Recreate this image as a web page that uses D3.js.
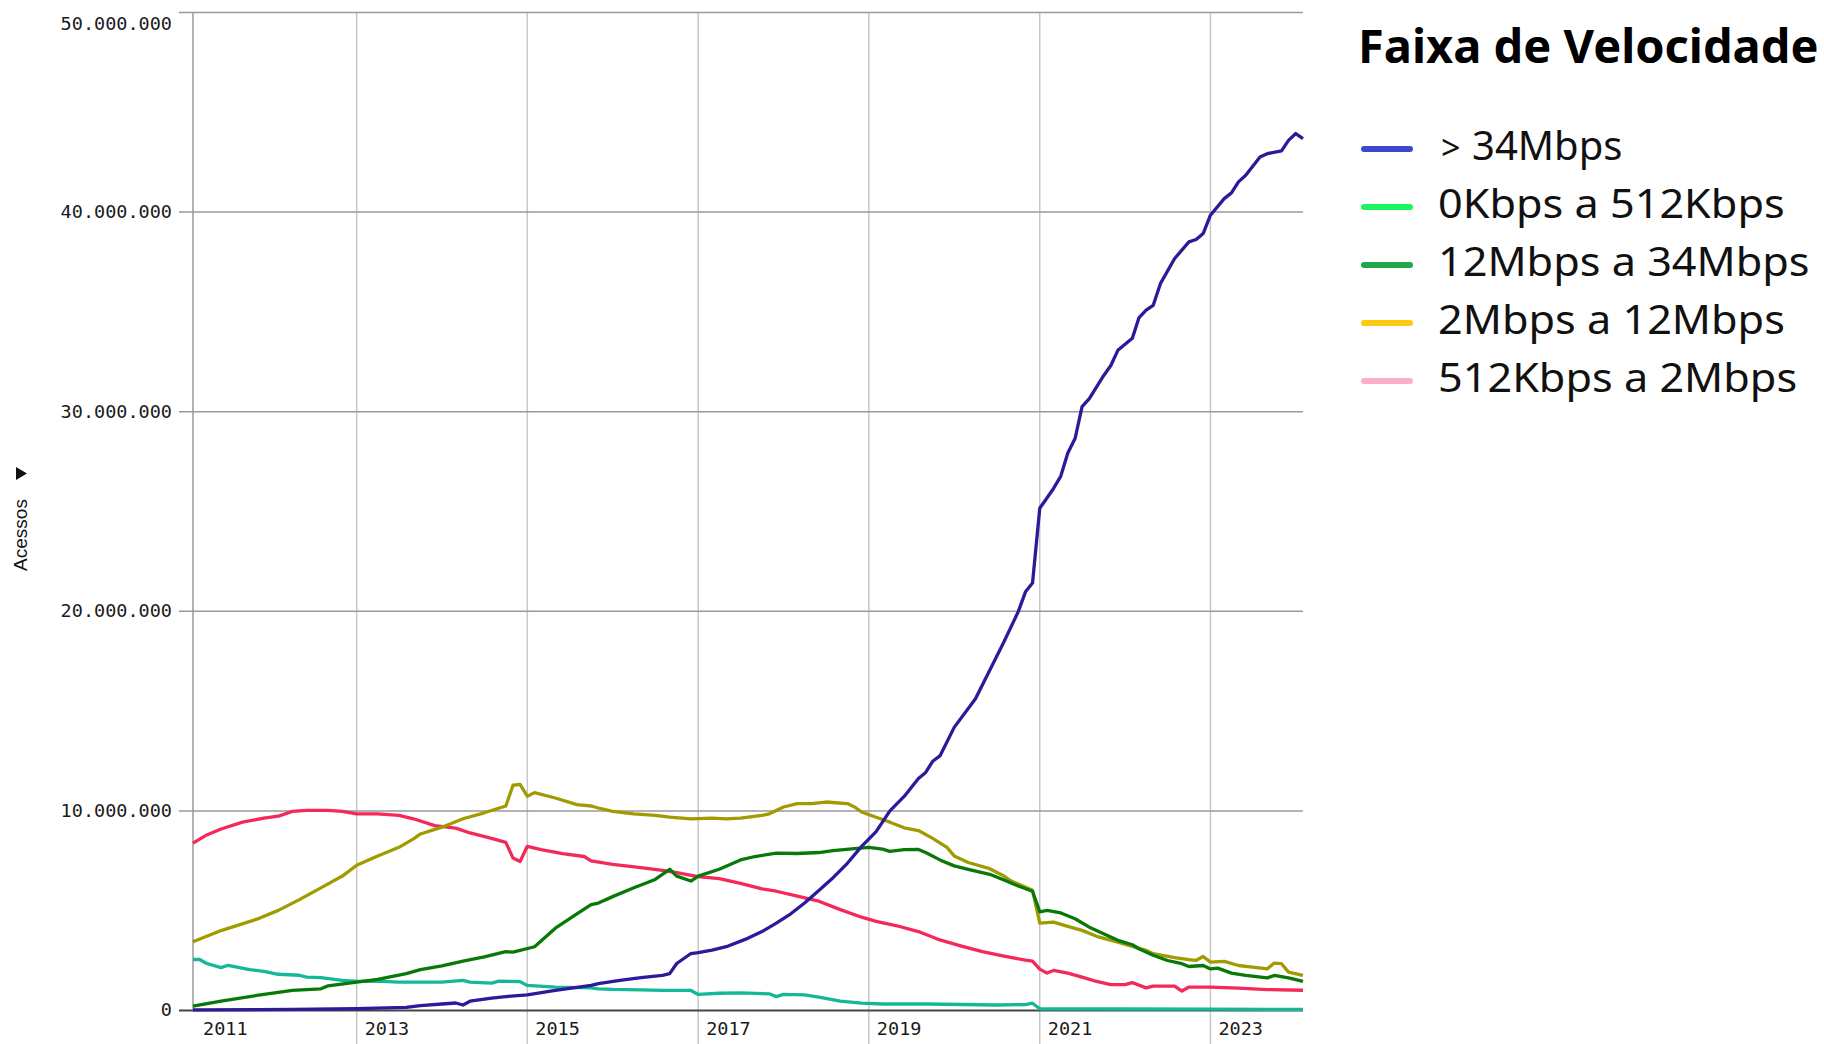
<!DOCTYPE html>
<html>
<head>
<meta charset="utf-8">
<script src="https://cdn.jsdelivr.net/npm/d3@7"></script>
<style>
  body { margin: 0; background: #fff; }
  svg { display: block; }
</style>
</head>
<body>
<svg id="chart"></svg>
<script>
const width = 1824;
const height = 1044;

// Acessos por faixa de velocidade (milhões)
const seriesNames = ["> 34Mbps", "0Kbps a 512Kbps", "12Mbps a 34Mbps", "2Mbps a 12Mbps", "512Kbps a 2Mbps"];
const lineColors = ["#2b1a9a", "#14b898", "#087808", "#9f9b00", "#f5285a"];
const legendColors = ["#3f48cc", "#1af560", "#22a64a", "#ffc90e", "#ffaec9"];
const yearTicks = [2011, 2013, 2015, 2017, 2019, 2021, 2023];

const acima34M = [
  ["2011-02", 0.01], ["2011-11", 0.02], ["2012-04", 0.03], ["2013-01", 0.07], ["2013-08", 0.13],
  ["2013-10", 0.22], ["2014-01", 0.30], ["2014-03", 0.35], ["2014-04", 0.25], ["2014-05", 0.44],
  ["2014-08", 0.59], ["2014-10", 0.67], ["2015-01", 0.76], ["2015-05", 0.98], ["2015-10", 1.23],
  ["2015-11", 1.32], ["2016-02", 1.48], ["2016-05", 1.62], ["2016-08", 1.74], ["2016-09", 1.82],
  ["2016-10", 2.33], ["2016-12", 2.83], ["2017-01", 2.88], ["2017-03", 3.00], ["2017-05", 3.17],
  ["2017-08", 3.59], ["2017-10", 3.93], ["2017-12", 4.35], ["2018-02", 4.82], ["2018-04", 5.36],
  ["2018-06", 5.99], ["2018-08", 6.63], ["2018-10", 7.35], ["2018-12", 8.20], ["2019-02", 8.94],
  ["2019-04", 9.98], ["2019-06", 10.70], ["2019-08", 11.60], ["2019-09", 11.90], ["2019-10", 12.46],
  ["2019-11", 12.73], ["2020-01", 14.16], ["2020-04", 15.59], ["2020-06", 17.02], ["2020-08", 18.45],
  ["2020-10", 19.96], ["2020-11", 20.95], ["2020-12", 21.39], ["2021-01", 25.14], ["2021-03", 26.13],
  ["2021-04", 26.75], ["2021-05", 27.91], ["2021-06", 28.63], ["2021-07", 30.23], ["2021-08", 30.63],
  ["2021-10", 31.78], ["2021-11", 32.29], ["2021-12", 33.05], ["2022-02", 33.65], ["2022-03", 34.67],
  ["2022-04", 35.06], ["2022-05", 35.30], ["2022-06", 36.39], ["2022-08", 37.65], ["2022-10", 38.48],
  ["2022-11", 38.60], ["2022-12", 38.90], ["2023-01", 39.82], ["2023-03", 40.65], ["2023-04", 40.94],
  ["2023-05", 41.49], ["2023-06", 41.82], ["2023-08", 42.74], ["2023-09", 42.90], ["2023-11", 43.04],
  ["2023-12", 43.57], ["2024-01", 43.91], ["2024-02", 43.66]
];

const ate512K = [
  ["2011-02", 2.53], ["2011-03", 2.53], ["2011-04", 2.33], ["2011-06", 2.12], ["2011-07", 2.24],
  ["2011-10", 2.02], ["2011-12", 1.94], ["2012-02", 1.79], ["2012-05", 1.74], ["2012-06", 1.65],
  ["2012-08", 1.62], ["2012-11", 1.48], ["2013-01", 1.43], ["2013-04", 1.45], ["2013-07", 1.40],
  ["2013-10", 1.40], ["2014-01", 1.40], ["2014-04", 1.48], ["2014-05", 1.40], ["2014-08", 1.35],
  ["2014-09", 1.45], ["2014-12", 1.42], ["2015-01", 1.23], ["2015-05", 1.15], ["2015-10", 1.11],
  ["2015-11", 1.06], ["2016-01", 1.03], ["2016-05", 1.01], ["2016-08", 0.98], ["2016-12", 0.98],
  ["2017-01", 0.78], ["2017-04", 0.84], ["2017-07", 0.86], ["2017-11", 0.81], ["2017-12", 0.67],
  ["2018-01", 0.78], ["2018-04", 0.76], ["2018-06", 0.64], ["2018-09", 0.44], ["2018-12", 0.34],
  ["2019-03", 0.30], ["2019-09", 0.30], ["2020-07", 0.25], ["2020-11", 0.27], ["2020-12", 0.34],
  ["2021-01", 0.06], ["2022-01", 0.05], ["2023-01", 0.04], ["2024-02", 0.03]
];

const de12a34M = [
  ["2011-02", 0.19], ["2011-06", 0.44], ["2011-11", 0.73], ["2012-04", 0.98], ["2012-08", 1.06],
  ["2012-09", 1.21], ["2013-01", 1.40], ["2013-04", 1.53], ["2013-08", 1.82], ["2013-10", 2.02],
  ["2014-01", 2.21], ["2014-04", 2.45], ["2014-07", 2.66], ["2014-10", 2.92], ["2014-11", 2.90],
  ["2015-02", 3.17], ["2015-05", 4.10], ["2015-08", 4.82], ["2015-10", 5.28], ["2015-11", 5.36],
  ["2016-01", 5.68], ["2016-04", 6.12], ["2016-07", 6.54], ["2016-09", 7.05], ["2016-10", 6.71],
  ["2016-12", 6.46], ["2017-01", 6.71], ["2017-04", 7.05], ["2017-07", 7.52], ["2017-09", 7.69],
  ["2017-12", 7.86], ["2018-03", 7.84], ["2018-06", 7.89], ["2018-08", 7.98], ["2018-11", 8.09],
  ["2019-01", 8.15], ["2019-03", 8.06], ["2019-04", 7.95], ["2019-06", 8.03], ["2019-08", 8.04],
  ["2019-09", 7.89], ["2019-11", 7.52], ["2020-01", 7.22], ["2020-03", 7.05], ["2020-06", 6.80],
  ["2020-08", 6.51], ["2020-10", 6.21], ["2020-12", 5.95], ["2021-01", 4.92], ["2021-02", 4.99],
  ["2021-04", 4.86], ["2021-06", 4.57], ["2021-08", 4.15], ["2021-10", 3.82], ["2021-12", 3.49],
  ["2022-02", 3.27], ["2022-03", 3.07], ["2022-05", 2.74], ["2022-07", 2.48], ["2022-09", 2.32],
  ["2022-10", 2.18], ["2022-12", 2.23], ["2023-01", 2.06], ["2023-02", 2.10], ["2023-04", 1.85],
  ["2023-06", 1.73], ["2023-09", 1.61], ["2023-10", 1.73], ["2023-12", 1.61], ["2024-02", 1.43]
];

const de2a12M = [
  ["2011-02", 3.42], ["2011-06", 3.98], ["2011-11", 4.55], ["2012-02", 4.99], ["2012-05", 5.53],
  ["2012-08", 6.12], ["2012-11", 6.71], ["2013-01", 7.25], ["2013-04", 7.72], ["2013-07", 8.15],
  ["2013-09", 8.57], ["2013-10", 8.82], ["2014-01", 9.16], ["2014-04", 9.58], ["2014-07", 9.88],
  ["2014-10", 10.22], ["2014-11", 11.26], ["2014-12", 11.30], ["2015-01", 10.71], ["2015-02", 10.89],
  ["2015-05", 10.62], ["2015-08", 10.29], ["2015-10", 10.22], ["2015-11", 10.12], ["2016-01", 9.95],
  ["2016-04", 9.83], ["2016-07", 9.75], ["2016-09", 9.66], ["2016-12", 9.58], ["2017-03", 9.61],
  ["2017-05", 9.58], ["2017-07", 9.61], ["2017-10", 9.75], ["2017-11", 9.83], ["2018-01", 10.17],
  ["2018-03", 10.34], ["2018-05", 10.34], ["2018-07", 10.42], ["2018-10", 10.34], ["2018-11", 10.17],
  ["2018-12", 9.92], ["2019-02", 9.66], ["2019-04", 9.41], ["2019-06", 9.13], ["2019-08", 8.99],
  ["2019-10", 8.60], ["2019-12", 8.15], ["2020-01", 7.72], ["2020-03", 7.39], ["2020-06", 7.08],
  ["2020-08", 6.71], ["2020-09", 6.46], ["2020-12", 6.00], ["2021-01", 4.35], ["2021-03", 4.40],
  ["2021-05", 4.19], ["2021-07", 3.99], ["2021-09", 3.69], ["2021-12", 3.40], ["2022-02", 3.19],
  ["2022-04", 2.99], ["2022-05", 2.82], ["2022-08", 2.62], ["2022-10", 2.52], ["2022-11", 2.49],
  ["2022-12", 2.68], ["2023-01", 2.40], ["2023-03", 2.44], ["2023-05", 2.23], ["2023-07", 2.15],
  ["2023-09", 2.06], ["2023-10", 2.35], ["2023-11", 2.32], ["2023-12", 1.90], ["2024-02", 1.73]
];

const de512Ka2M = [
  ["2011-02", 8.36], ["2011-04", 8.77], ["2011-06", 9.07], ["2011-09", 9.41], ["2011-12", 9.61],
  ["2012-02", 9.71], ["2012-04", 9.95], ["2012-06", 10.00], ["2012-09", 10.00], ["2012-11", 9.95],
  ["2013-01", 9.83], ["2013-04", 9.83], ["2013-07", 9.75], ["2013-09", 9.58], ["2013-12", 9.24],
  ["2014-03", 9.11], ["2014-05", 8.87], ["2014-08", 8.60], ["2014-10", 8.40], ["2014-11", 7.61],
  ["2014-12", 7.44], ["2015-01", 8.20], ["2015-03", 8.03], ["2015-06", 7.84], ["2015-09", 7.69],
  ["2015-10", 7.47], ["2016-01", 7.30], ["2016-05", 7.13], ["2016-08", 7.00], ["2016-10", 6.88],
  ["2017-01", 6.68], ["2017-04", 6.58], ["2017-07", 6.34], ["2017-10", 6.07], ["2017-12", 5.95],
  ["2018-03", 5.70], ["2018-06", 5.45], ["2018-09", 5.03], ["2018-12", 4.65], ["2019-02", 4.44],
  ["2019-05", 4.22], ["2019-08", 3.93], ["2019-11", 3.51], ["2020-02", 3.20], ["2020-05", 2.92],
  ["2020-08", 2.70], ["2020-11", 2.50], ["2020-12", 2.45], ["2021-01", 2.05], ["2021-02", 1.85],
  ["2021-03", 1.98], ["2021-05", 1.85], ["2021-07", 1.65], ["2021-09", 1.43], ["2021-11", 1.27],
  ["2022-01", 1.27], ["2022-02", 1.37], ["2022-04", 1.11], ["2022-05", 1.20], ["2022-08", 1.20],
  ["2022-09", 0.95], ["2022-10", 1.15], ["2023-01", 1.15], ["2023-05", 1.10], ["2023-09", 1.02],
  ["2024-02", 0.99]
];

const parseMonth = d3.timeParse("%Y-%m");
const series = [acima34M, ate512K, de12a34M, de2a12M, de512Ka2M].map((values, i) => ({
  name: seriesNames[i],
  color: lineColors[i],
  values: values.map(([m, v]) => ({ date: parseMonth(m), value: v }))
}));

const plot = { left: 193, right: 1303, top: 12, bottom: 1010 };

const svg = d3.select("#chart")
  .attr("width", width)
  .attr("height", height)
  .style("background", "#fff");

const x = d3.scaleTime()
  .domain(d3.extent(series.flatMap(s => s.values), d => d.date))
  .range([plot.left, plot.right]);

const y = d3.scaleLinear()
  .domain([0, 50])
  .range([plot.bottom, plot.top]);

// vertical gridlines (every two years)
const tickDates = yearTicks.map(yr => new Date(yr, 0, 1));
svg.append("g")
  .selectAll("line")
  .data(tickDates.filter(d => x(d) >= plot.left))
  .enter()
  .append("line")
  .attr("x1", d => x(d))
  .attr("x2", d => x(d))
  .attr("y1", plot.top)
  .attr("y2", height)
  .attr("stroke", "#c8c8c8")
  .attr("stroke-width", 1.5);

svg.append("g")
  .selectAll("text")
  .data(tickDates)
  .enter()
  .append("text")
  .attr("x", d => Math.max(x(d) + 8, plot.left + 10))
  .attr("y", 1035)
  .attr("font-family", "DejaVu Sans Mono")
  .attr("font-size", 18.5)
  .attr("fill", "#1a1a1a")
  .text(d => d.getFullYear());

// y axis with horizontal gridlines
const fmt = d => d3.format(",")(d * 1e6).replace(/,/g, ".");
const yAxis = d3.axisLeft(y)
  .ticks(5)
  .tickSize(-(plot.right - 179))
  .tickPadding(7)
  .tickFormat(fmt);

const yg = svg.append("g")
  .attr("transform", "translate(179,0)")
  .call(yAxis);
yg.select(".domain").remove();
yg.selectAll(".tick line")
  .attr("stroke", d => d === 0 ? "#444" : "#9a9a9a")
  .attr("stroke-width", d => d === 0 ? 2 : 1.5);
yg.selectAll(".tick text")
  .attr("font-family", "DejaVu Sans Mono")
  .attr("font-size", 18.5)
  .attr("fill", "#1a1a1a")
  .attr("y", d => d === 50 ? 12 : 0);

svg.append("line")
  .attr("x1", plot.left)
  .attr("x2", plot.left)
  .attr("y1", plot.top)
  .attr("y2", plot.bottom)
  .attr("stroke", "#9a9a9a")
  .attr("stroke-width", 1.5);

// axis title
svg.append("path")
  .attr("d", "M16,467 L27,473.5 L16,480 Z")
  .attr("fill", "#111");
svg.append("text")
  .attr("transform", "translate(27,535) rotate(-90)")
  .attr("text-anchor", "middle")
  .attr("font-family", "Liberation Sans, Arial, sans-serif")
  .attr("font-size", 19)
  .attr("fill", "#111")
  .text("Acessos");

// lines
const line = d3.line()
  .x(d => x(d.date))
  .y(d => y(d.value));

const drawOrder = [1, 4, 3, 2, 0];
svg.append("g")
  .selectAll("path")
  .data(drawOrder.map(i => series[i]))
  .enter()
  .append("path")
  .attr("d", d => line(d.values))
  .attr("fill", "none")
  .attr("stroke", d => d.color)
  .attr("stroke-width", 3.3)
  .attr("stroke-linejoin", "round");

// legend
const legend = svg.append("g");
legend.append("text")
  .attr("x", 1358)
  .attr("y", 63)
  .attr("font-family", "Noto Sans")
  .attr("font-weight", "bold")
  .attr("font-size", 47)
  .attr("fill", "#000")
  .text("Faixa de Velocidade");

const rows = legend.selectAll("g.row")
  .data(seriesNames)
  .enter()
  .append("g")
  .attr("class", "row")
  .attr("transform", (d, i) => `translate(0,${160 + i * 58})`);

rows.append("line")
  .attr("x1", 1364)
  .attr("x2", 1410)
  .attr("y1", -11)
  .attr("y2", -11)
  .attr("stroke", (d, i) => legendColors[i])
  .attr("stroke-width", 6)
  .attr("stroke-linecap", "round");

rows.each(function (d) {
  const t = d3.select(this)
    .append("text")
    .attr("x", 1438)
    .attr("y", 0)
    .attr("font-family", "Noto Sans")
    .attr("font-size", 40)
    .attr("fill", "#111");
  if (d.startsWith(">")) {
    t.append("tspan").attr("x", 1441).attr("font-size", 34).text(">");
    t.append("tspan").attr("x", 1472).text(d.slice(1).trim());
  } else {
    t.text(d);
    const w = t.node().getComputedTextLength();
    t.attr("textLength", w * 1.08).attr("lengthAdjust", "spacingAndGlyphs");
  }
});
</script>
</body>
</html>
